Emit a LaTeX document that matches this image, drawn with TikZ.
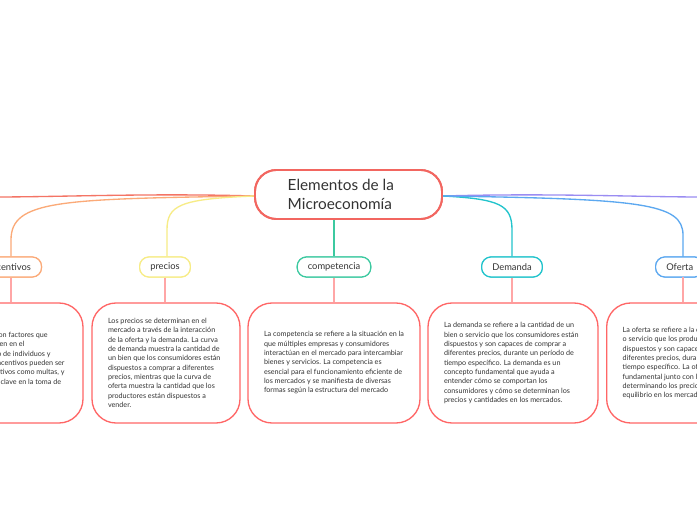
\documentclass[tikz,border=0pt]{standalone}
\usepackage{fontspec}
\setmainfont{Lato}
\begin{document}
\begin{tikzpicture}[x=0.75pt,y=-0.75pt,
  branch/.style={draw=#1,line width=0.9pt,rounded corners=7pt,fill=white,minimum height=20*0.75pt,inner xsep=8pt,font=\fontsize{7}{8}\selectfont,text=black!80},
  detail/.style={draw=red!60!white,line width=1pt,rounded corners=18pt,fill=white,align=flush left,font=\fontsize{5.4}{7}\selectfont,text=black!80},
  link/.style={line width=1pt},
  sub/.style={draw=red!35!white,line width=0.9pt}]
\useasboundingbox (0,0) rectangle (697,520);
\clip (0,0) rectangle (697,520);
\fill[white] (0,0) rectangle (697,520);
\definecolor{corange}{HTML}{FBAA78}
\definecolor{cyellow}{HTML}{F7EC86}
\definecolor{cgreen}{HTML}{3CC9A0}
\definecolor{cteal}{HTML}{22C4CC}
\definecolor{cblue}{HTML}{5CA8F0}
\definecolor{cred}{HTML}{F26660}
\definecolor{cpurple}{HTML}{9A8CF2}
% center
\node[draw=cred,line width=1.4pt,rounded corners=16pt,minimum width=187*0.75pt,minimum height=49*0.75pt,fill=white] (c) at (348.5,194.5) {};
\node[font=\fontsize{11.5}{14}\selectfont,align=left,anchor=west,text=black!80] (ct) at (283,194.5) {Elementos de la\\Microeconomía};
% branches
\node[branch=corange] (b1) at (10,267) {incentivos};
\node[branch=cyellow] (b2) at (165,267) {precios};
\node[branch=cgreen] (b3) at (334,267) {competencia};
\node[branch=cteal] (b4) at (512,267) {Demanda};
\node[branch=cblue,anchor=west] (b5) at (655,267) {Oferta};
\coordinate (L) at (-5,197);
\coordinate (R) at (702,197);
\coordinate (cs) at (334,219);
\draw[link,cred!80!corange] (c.west |- 0,196) .. controls (150,193) and (60,197) .. (L);
\draw[link,cpurple] (c.east |- 0,196) .. controls (550,193) and (640,197) .. (R);
\draw[link,corange] (c.west |- 0,196) .. controls (60,199) and (11,200) .. (11,240) -- (b1.north -| 11,0);
\draw[link,cyellow] (c.west |- 0,196) .. controls (180,199) and (167,205) .. (167,230) -- (b2.north -| 167,0);
\draw[link,cgreen] (cs) -- (b3.north);
\draw[link,cteal] (c.east |- 0,196) .. controls (500,199) and (512,205) .. (512,230) -- (b4.north);
\draw[link,cblue] (c.east |- 0,196) .. controls (640,199) and (683,203) .. (683,235) -- (683,257);
\node[draw=cred,line width=1.4pt,rounded corners=16pt,minimum width=187*0.75pt,minimum height=49*0.75pt] at (c) {};
\node[branch=corange] at (b1) {incentivos};
\node[branch=cyellow] at (b2) {precios};
\node[branch=cgreen] at (b3) {competencia};
\node[branch=cteal] at (b4) {Demanda};
\node[branch=cblue,anchor=west] at (655,267) {Oferta};
% details
\node[detail,minimum width=150*0.75pt,minimum height=120*0.75pt,text width=118*0.75pt] (d1) at (8,363) {Los incentivos son factores que motivan e influyen en el comportamiento de individuos y empresas. Los incentivos pueden ser positivos o negativos como multas, y juegan un papel clave en la toma de decisiones};
\node[detail,minimum width=148*0.75pt,minimum height=120*0.75pt,text width=116*0.75pt] (d2) at (166,363) {Los precios se determinan en el mercado a través de la interacción de la oferta y la demanda. La curva de demanda muestra la cantidad de un bien que los consumidores están dispuestos a comprar a diferentes precios, mientras que la curva de oferta muestra la cantidad que los productores están dispuestos a vender.};
\node[detail,minimum width=172*0.75pt,minimum height=120*0.75pt,text width=140*0.75pt] (d3) at (334,363) {La competencia se refiere a la situación en la que múltiples empresas y consumidores interactúan en el mercado para intercambiar bienes y servicios. La competencia es esencial para el funcionamiento eficiente de los mercados y se manifiesta de diversas formas según la estructura del mercado};
\node[detail,minimum width=170*0.75pt,minimum height=120*0.75pt,text width=138*0.75pt] (d4) at (513,363) {La demanda se refiere a la cantidad de un bien o servicio que los consumidores están dispuestos y son capaces de comprar a diferentes precios, durante un período de tiempo específico. La demanda es un concepto fundamental que ayuda a entender cómo se comportan los consumidores y cómo se determinan los precios y cantidades en los mercados.};
\node[detail,minimum width=170*0.75pt,minimum height=120*0.75pt,text width=138*0.75pt,anchor=west] (d5) at (606,363) {La oferta se refiere a la cantidad de un bien o servicio que los productores están dispuestos y son capaces de vender a diferentes precios, durante un período de tiempo específico. La oferta es un concepto fundamental junto con la demanda, determinando los precios y cantidades de equilibrio en los mercados.};
\draw[sub] (b1.south -| 11,0) -- (d1.north -| 11,0);
\draw[sub] (b2.south) -- (d2.north -| b2.south);
\draw[sub] (b3.south) -- (d3.north);
\draw[sub] (b4.south) -- (d4.north -| b4.south);
\draw[sub] (683,277) -- (d5.north -| 683,0);
\end{tikzpicture}
\end{document}
